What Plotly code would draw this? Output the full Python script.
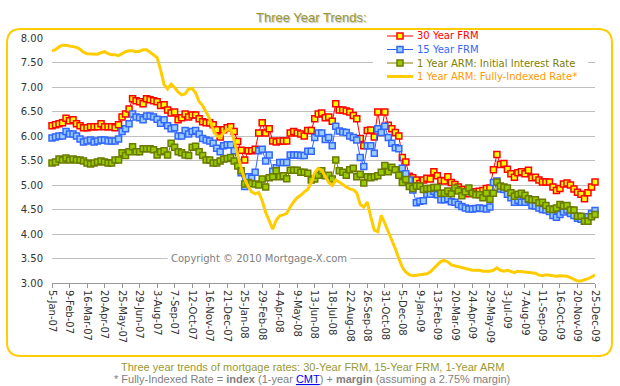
import plotly.graph_objects as go
import pandas as pd

# Weekly categories 5-Jan-07 ... 25-Dec-09
weeks = [d.strftime("%-d-%b-%y") for d in pd.date_range("2007-01-05", periods=156, freq="7D")]
tick_labels = weeks[::5]

fm30 = [6.21, 6.23, 6.25, 6.27, 6.36, 6.31, 6.33, 6.25, 6.21, 6.17, 6.17, 6.19, 6.19, 6.19, 6.25, 6.19, 6.19, 6.19, 6.17, 6.23, 6.39, 6.45, 6.55, 6.76, 6.72, 6.70, 6.66,
        6.76, 6.74, 6.72, 6.70, 6.62, 6.64, 6.53, 6.47, 6.49, 6.33, 6.37, 6.45, 6.39, 6.43, 6.43, 6.35, 6.29, 6.27, 6.27, 6.23, 6.13, 5.98, 6.13, 6.17, 6.19,
        6.09, 5.89, 5.71, 5.51, 5.70, 5.70, 5.73, 6.06, 6.27, 6.06, 6.15, 5.90, 5.88, 5.90, 5.90, 5.90, 6.06, 6.09, 6.06, 6.04, 6.00, 6.11, 6.11, 6.35, 6.45, 6.47,
        6.37, 6.39, 6.30, 6.66, 6.53, 6.53, 6.51, 6.49, 6.42, 6.35, 5.95, 5.80, 6.11, 6.12, 5.98, 6.49, 6.07, 6.49, 6.22, 6.15, 6.07, 6.00, 5.56, 5.47, 5.18,
        5.15, 5.10, 5.03, 5.10, 5.14, 5.12, 5.27, 5.19, 5.09, 5.08, 5.17, 5.05, 5.01, 4.96, 4.91, 4.85, 4.82, 4.86, 4.86, 4.87, 4.89, 4.93, 4.94, 5.31, 5.62,
        5.42, 5.44, 5.32, 5.23, 5.16, 5.25, 5.27, 5.23, 5.30, 5.15, 5.16, 5.10, 5.06, 5.06, 5.06, 4.96, 4.89, 4.93, 5.02, 5.04, 5.00, 4.92, 4.85, 4.81, 4.72, 4.84, 4.96, 5.06]

fm15 = [5.96, 5.98, 6.00, 6.00, 6.09, 6.04, 6.04, 6.00, 5.94, 5.88, 5.90, 5.92, 5.88, 5.90, 5.92, 5.92, 5.90, 5.90, 5.90, 5.94, 6.09, 6.15, 6.25, 6.45, 6.39, 6.37, 6.33,
        6.41, 6.41, 6.39, 6.34, 6.26, 6.33, 6.21, 6.15, 6.17, 6.00, 6.00, 6.11, 6.04, 6.09, 6.11, 6.04, 5.95, 5.92, 5.90, 5.85, 5.75, 5.68, 5.80, 5.82, 5.82,
        5.70, 5.46, 5.25, 4.97, 5.17, 5.14, 5.26, 5.70, 5.73, 5.49, 5.61, 5.28, 5.35, 5.46, 5.46, 5.46, 5.61, 5.61, 5.61, 5.60, 5.60, 5.69, 5.69, 5.97, 6.06, 6.06,
        5.93, 5.97, 5.80, 6.20, 6.10, 6.08, 6.07, 6.00, 5.97, 5.92, 5.56, 5.38, 5.80, 5.80, 5.65, 6.15, 6.07, 6.20, 5.97, 5.85, 5.76, 5.74, 5.34, 5.23, 5.10,
        4.90, 4.64, 4.67, 4.68, 4.81, 4.81, 4.87, 4.80, 4.70, 4.70, 4.72, 4.66, 4.65, 4.60, 4.56, 4.53, 4.51, 4.51, 4.52, 4.53, 4.52, 4.51, 4.55, 5.05, 5.08,
        4.92, 4.91, 4.81, 4.74, 4.65, 4.69, 4.65, 4.65, 4.70, 4.58, 4.57, 4.53, 4.50, 4.49, 4.46, 4.38, 4.34, 4.40, 4.45, 4.49, 4.42, 4.38, 4.32, 4.30, 4.27, 4.35, 4.42, 4.48]

arm_initial = [5.45, 5.47, 5.53, 5.51, 5.55, 5.51, 5.53, 5.51, 5.51, 5.49, 5.45, 5.43, 5.45, 5.47, 5.49, 5.47, 5.45, 5.45, 5.51, 5.51, 5.66, 5.60, 5.68, 5.78, 5.68, 5.68, 5.74,
               5.74, 5.74, 5.72, 5.61, 5.68, 5.70, 5.61, 5.85, 5.77, 5.68, 5.66, 5.61, 5.60, 5.77, 5.79, 5.68, 5.60, 5.51, 5.51, 5.45, 5.45, 5.49, 5.53, 5.54, 5.56,
               5.49, 5.39, 5.29, 5.02, 5.05, 5.03, 5.02, 5.00, 5.12, 4.96, 5.15, 5.17, 5.29, 5.17, 5.19, 5.13, 5.30, 5.30, 5.30, 5.26, 5.26, 5.24, 5.10, 5.12, 5.20, 5.29,
               5.19, 5.20, 5.12, 5.51, 5.29, 5.26, 5.20, 5.31, 5.34, 5.17, 5.22, 5.04, 5.17, 5.15, 5.17, 5.19, 5.26, 5.40, 5.27, 5.36, 5.31, 5.20, 5.05, 5.11, 4.97,
               4.93, 4.98, 4.98, 4.91, 4.93, 4.93, 4.95, 4.95, 4.83, 4.83, 4.88, 4.82, 4.94, 4.88, 4.78, 4.86, 4.94, 4.83, 4.80, 4.80, 4.74, 4.83, 4.71, 4.83, 5.06,
               4.98, 4.96, 4.94, 4.84, 4.77, 4.81, 4.83, 4.79, 4.72, 4.70, 4.70, 4.64, 4.65, 4.58, 4.51, 4.50, 4.53, 4.60, 4.57, 4.58, 4.49, 4.49, 4.36, 4.36, 4.26, 4.26, 4.35, 4.40]

arm_fully_indexed = [7.74, 7.76, 7.82, 7.85, 7.85, 7.84, 7.82, 7.81, 7.77, 7.71, 7.68, 7.68, 7.68, 7.67, 7.70, 7.72, 7.68, 7.66, 7.66, 7.64, 7.68, 7.72, 7.74, 7.74, 7.72, 7.73, 7.76, 7.76, 7.71,
                     7.66, 7.60, 7.35, 7.05, 6.96, 7.06, 6.99, 6.90, 6.84, 6.86, 6.96, 6.97, 6.88, 6.70, 6.62, 6.50, 6.35, 6.12, 6.01, 5.97, 6.07, 6.13, 6.15,
                     5.90, 5.60, 5.35, 5.12, 4.97, 4.86, 4.82, 4.85, 4.68, 4.44, 4.25, 4.10, 4.28, 4.37, 4.39, 4.42, 4.55, 4.66, 4.74, 4.79, 4.86, 4.91, 5.05, 5.25, 5.34, 5.30,
                     5.18, 5.05, 4.99, 5.10, 5.06, 5.00, 4.96, 4.92, 4.90, 4.84, 4.60, 4.55, 4.65, 4.35, 4.08, 4.05, 4.38, 4.22, 4.05, 3.85, 3.70, 3.50, 3.32, 3.22, 3.17,
                     3.15, 3.16, 3.17, 3.18, 3.19, 3.23, 3.30, 3.38, 3.44, 3.46, 3.43, 3.37, 3.35, 3.33, 3.31, 3.29, 3.28, 3.26, 3.26, 3.26, 3.24, 3.24, 3.24, 3.26, 3.31,
                     3.26, 3.24, 3.26, 3.23, 3.21, 3.24, 3.23, 3.22, 3.22, 3.21, 3.20, 3.16, 3.15, 3.17, 3.16, 3.14, 3.14, 3.15, 3.14, 3.14, 3.11, 3.07, 3.04, 3.04, 3.06, 3.09, 3.12, 3.17]

series_names = ["30 Year FRM", "15 Year FRM", "1 Year ARM: Initial Interest Rate", "1 Year ARM: Fully-Indexed Rate*"]
y_ticks = [3.0, 3.5, 4.0, 4.5, 5.0, 5.5, 6.0, 6.5, 7.0, 7.5, 8.0]

W, H = 620, 386
L, R, T, B = 52, 25, 38, 103
PW, PH = W - L - R, H - T - B


def px(X):
    return (X - L) / PW


def py(Y):
    return (H - B - Y) / PH


FONT = "DejaVu Sans"
CAP_FONT = "Liberation Sans"

fig = go.Figure()
fig.add_trace(go.Scatter(x=weeks, y=fm30, mode="lines+markers", name=series_names[0],
                         line=dict(color="#FF0000", width=1),
                         marker=dict(symbol="square", size=6, color="#FFFF00", line=dict(color="#FF0000", width=1.5)),
                         cliponaxis=False))
fig.add_trace(go.Scatter(x=weeks, y=fm15, mode="lines+markers", name=series_names[1],
                         line=dict(color="#3366FF", width=1),
                         marker=dict(symbol="square", size=6, color="#99CCFF", line=dict(color="#3366FF", width=1.5)),
                         cliponaxis=False))
fig.add_trace(go.Scatter(x=weeks, y=arm_initial, mode="lines+markers", name=series_names[2],
                         line=dict(color="#808000", width=1),
                         marker=dict(symbol="square", size=6, color="#99CC00", line=dict(color="#6B7A00", width=1.5)),
                         cliponaxis=False))
fig.add_trace(go.Scatter(x=weeks, y=arm_fully_indexed, mode="lines", name=series_names[3],
                         line=dict(color="#FFCC00", width=3), cliponaxis=False))

shapes = []
# rounded outer frame
x0, x1 = px(7), px(612)
y1, y0 = py(29), py(356)
rx, ry = 14 / PW, 14 / PH
path = (f"M {x0+rx},{y1} L {x1-rx},{y1} Q {x1},{y1} {x1},{y1-ry} L {x1},{y0+ry} "
        f"Q {x1},{y0} {x1-rx},{y0} L {x0+rx},{y0} Q {x0},{y0} {x0},{y0+ry} "
        f"L {x0},{y1-ry} Q {x0},{y1} {x0+rx},{y1} Z")
shapes.append(dict(type="path", xref="paper", yref="paper", path=path,
                   line=dict(color="#FFCC00", width=2), layer="above"))

# legend background
shapes.append(dict(type="rect", xref="paper", yref="paper", x0=px(373), x1=px(588), y0=py(84), y1=py(30),
                   fillcolor="white", line=dict(width=0), layer="above"))

legend_rows = [36, 49.5, 63, 76.5]
legend_line = ["#FF0000", "#3366FF", "#808000", "#FFCC00"]
legend_fill = ["#FFFF00", "#99CCFF", "#99CC00", None]
legend_edge = ["#FF0000", "#3366FF", "#6B7A00", None]
legend_text = ["#FF0000", "#3366FF", "#808000", "#FF9900"]

annotations = []
for k, Y in enumerate(legend_rows):
    shapes.append(dict(type="line", xref="paper", yref="paper", x0=px(387), x1=px(413), y0=py(Y), y1=py(Y),
                       line=dict(color=legend_line[k], width=3 if k == 3 else 1), layer="above"))
    if legend_fill[k]:
        shapes.append(dict(type="rect", xref="paper", yref="paper", x0=px(397), x1=px(403), y0=py(Y + 3), y1=py(Y - 3),
                           fillcolor=legend_fill[k], line=dict(color=legend_edge[k], width=1.5), layer="above"))
    annotations.append(dict(x=px(415), y=py(Y), xref="paper", yref="paper", text=series_names[k],
                            showarrow=False, xanchor="left", yanchor="middle",
                            font=dict(family=FONT, size=10, color=legend_text[k])))

annotations.append(dict(x=px(259), y=3.5, xref="paper", yref="y", text="Copyright © 2010 Mortgage-X.com",
                        showarrow=False, xanchor="center", yanchor="middle", bgcolor="white", borderpad=3,
                        font=dict(family=FONT, size=10, color="#808080")))
annotations.append(dict(x=px(311), y=py(17), xref="paper", yref="paper", text="Three Year Trends:",
                        showarrow=False, xanchor="center", yanchor="middle",
                        font=dict(family=CAP_FONT, size=13, color="#999933", shadow="1px 1px 1px #BBBBBB")))
annotations.append(dict(x=px(312), y=py(367), xref="paper", yref="paper",
                        text="Three year trends of mortgage rates: 30-Year FRM, 15-Year FRM, 1-Year ARM",
                        showarrow=False, xanchor="center", yanchor="middle",
                        font=dict(family=CAP_FONT, size=11, color="#999933")))
annotations.append(dict(x=px(312), y=py(379), xref="paper", yref="paper",
                        text="* Fully-Indexed Rate = <b>index</b> (1-year <span style='color:#0000EE'><u>CMT</u></span>) + <b>margin</b> (assuming a 2.75% margin)",
                        showarrow=False, xanchor="center", yanchor="middle",
                        font=dict(family=CAP_FONT, size=11, color="#808080")))

fig.update_layout(
    width=W, height=H, margin=dict(l=L, r=R, t=T, b=B, autoexpand=False),
    paper_bgcolor="white", plot_bgcolor="white", showlegend=False,
    shapes=shapes, annotations=annotations,
    xaxis=dict(type="category", range=[0, 155], tickmode="array", tickvals=tick_labels, ticktext=tick_labels,
               tickangle=90, tickfont=dict(family=FONT, size=10, color="#333333"),
               ticks="outside", ticklen=4, tickcolor="#999999", showline=True, linecolor="#999999",
               linewidth=1, showgrid=False, zeroline=False, fixedrange=True),
    yaxis=dict(range=[3, 8], tickmode="array", tickvals=y_ticks, tickformat=".2f",
               tickfont=dict(family=FONT, size=10, color="#333333"), showgrid=True, gridcolor="#C0C0C0",
               gridwidth=1, zeroline=False, showline=False, ticks="", ticklabelstandoff=8, fixedrange=True),
)

fig.write_html("out.html", config={"displayModeBar": False},
               post_script="document.body.style.margin='0';document.body.style.overflow='hidden';")
